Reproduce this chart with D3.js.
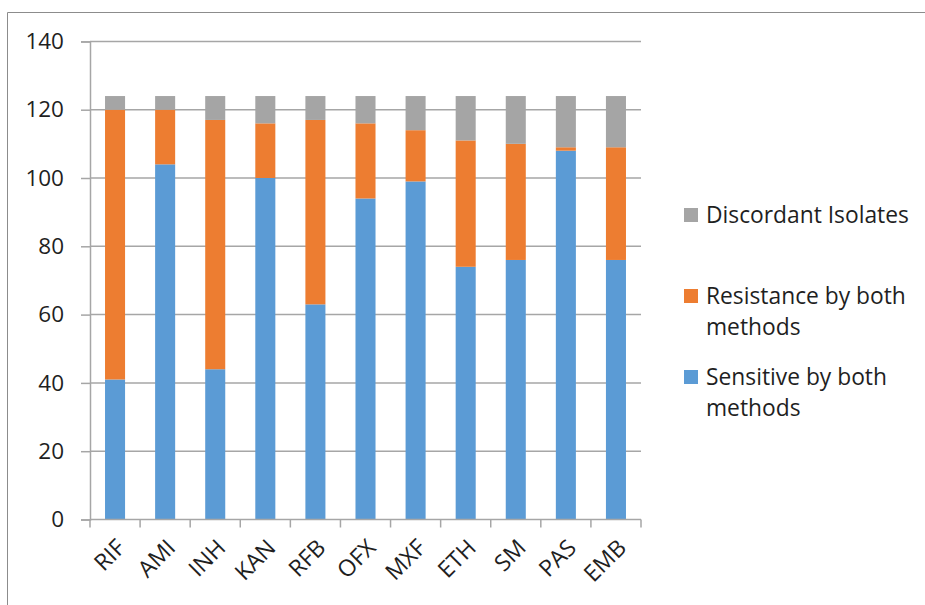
<!DOCTYPE html>
<html>
<head>
<meta charset="utf-8">
<script src="https://cdn.jsdelivr.net/npm/d3@7"></script>
<style>
  html, body { margin: 0; padding: 0; background: #fff; overflow: hidden; }
  svg { display: block; }
  text { font-family: "Open Sans", Lato, sans-serif; fill: #1f1f1f; }
</style>
</head>
<body>
<svg id="chart" width="925" height="605"></svg>
<script>
// Drug categories along the x axis
const drugs = ["RIF", "AMI", "INH", "KAN", "RFB", "OFX", "MXF", "ETH", "SM", "PAS", "EMB"];

// Isolate counts per agreement class
const sensitive  = [41, 104, 44, 100, 63, 94, 99, 74, 76, 108, 76];
const resistant  = [79, 16, 73, 16, 54, 22, 15, 37, 34, 1, 33];
const discordant = [4, 4, 7, 8, 7, 8, 10, 13, 14, 15, 15];

const seriesNames = ["Sensitive by both methods", "Resistance by both methods", "Discordant Isolates"];
const seriesColors = ["#5B9BD5", "#ED7D31", "#A5A5A5"];
const yTicks = [0, 20, 40, 60, 80, 100, 120, 140];

const svg = d3.select("#chart");
const plotLeft = 90, plotRight = 641, plotTop = 41.4, plotBottom = 519.5;
const fontFamily = "'Open Sans', Lato, sans-serif";

const rows = drugs.map((d, i) => ({
  drug: d,
  s0: sensitive[i],
  s1: resistant[i],
  s2: discordant[i]
}));
const layers = d3.stack().keys(["s0", "s1", "s2"])(rows);

const x = d3.scaleBand().domain(drugs).range([plotLeft, plotRight])
  .paddingInner(0.6).paddingOuter(0.3);
const y = d3.scaleLinear().domain([0, 140]).range([plotBottom, plotTop]);

// Outer chart frame (top and left edges fall inside the view)
svg.append("path")
  .attr("d", "M7.5,605 V12.5 H925")
  .attr("fill", "none").attr("stroke", "#8c8c8c").attr("stroke-width", 1);

// Horizontal gridlines
svg.append("g")
  .selectAll("line")
  .data(yTicks.filter(t => t > 0))
  .join("line")
  .attr("x1", plotLeft).attr("x2", plotRight)
  .attr("y1", d => y(d)).attr("y2", d => y(d))
  .attr("stroke", "#a6a6a6").attr("stroke-width", 1.5);

// Stacked bars
svg.append("g")
  .selectAll("g")
  .data(layers)
  .join("g")
  .attr("fill", (d, i) => seriesColors[i])
  .selectAll("rect")
  .data(d => d)
  .join("rect")
  .attr("x", d => x(d.data.drug))
  .attr("width", x.bandwidth())
  .attr("y", d => y(d[1]))
  .attr("height", d => y(d[0]) - y(d[1]));

// Y axis
const yAxis = d3.axisLeft(y).tickValues(yTicks).tickSize(9).tickPadding(17);
const gy = svg.append("g").attr("transform", `translate(${plotLeft},0)`).call(yAxis);
gy.select(".domain").attr("stroke", "#a6a6a6").attr("stroke-width", 1.5);
gy.selectAll(".tick line").attr("stroke", "#a6a6a6").attr("stroke-width", 1.5);
gy.selectAll(".tick text")
  .attr("font-size", 22.5)
  .style("font-family", fontFamily)
  .attr("fill", "#1f1f1f");

// X axis baseline with ticks between categories
const step = x.step();
const firstEdge = x(drugs[0]) - x.paddingOuter() * step;
const bounds = d3.range(drugs.length + 1).map(i => firstEdge + i * step);
svg.append("line")
  .attr("x1", plotLeft).attr("x2", plotRight)
  .attr("y1", plotBottom).attr("y2", plotBottom)
  .attr("stroke", "#a6a6a6").attr("stroke-width", 1.5);
svg.append("g")
  .selectAll("line")
  .data(bounds)
  .join("line")
  .attr("x1", d => d).attr("x2", d => d)
  .attr("y1", plotBottom).attr("y2", plotBottom + 8)
  .attr("stroke", "#a6a6a6").attr("stroke-width", 1.5);

// Rotated category labels
svg.append("g")
  .selectAll("text")
  .data(drugs)
  .join("text")
  .attr("transform", d => `translate(${x(d) + x.bandwidth() / 2 + 6},${plotBottom + 24}) rotate(-45)`)
  .attr("text-anchor", "end")
  .attr("dy", "0.35em")
  .attr("font-size", 23)
  .text(d => d);

// Legend (top entry is the top of the stack)
const legendItems = [
  { name: [seriesNames[2]], color: seriesColors[2], y: 215 },
  { name: ["Resistance by both", "methods"], color: seriesColors[1], y: 296 },
  { name: ["Sensitive by both", "methods"], color: seriesColors[0], y: 377 }
];
const lg = svg.append("g");
legendItems.forEach(item => {
  lg.append("rect")
    .attr("x", 684).attr("y", item.y - 7)
    .attr("width", 14).attr("height", 14)
    .attr("fill", item.color);
  const t = lg.append("text")
    .attr("x", 706).attr("y", item.y)
    .attr("font-size", 22.8);
  item.name.forEach((line, j) => {
    t.append("tspan").attr("x", 706).attr("dy", j === 0 ? "0.35em" : 31).text(line);
  });
});
</script>
</body>
</html>
